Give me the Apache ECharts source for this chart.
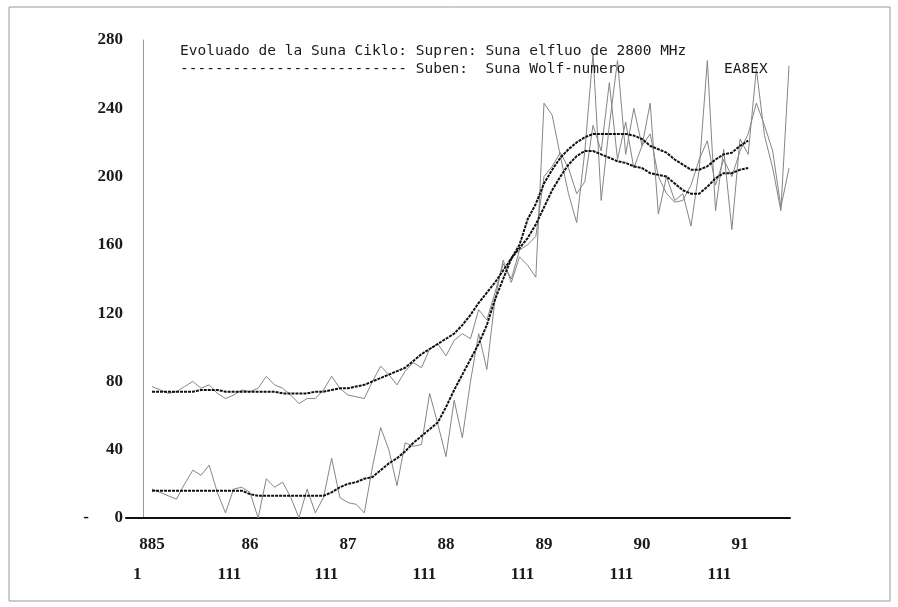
<!DOCTYPE html>
<html>
<head>
<meta charset="utf-8">
<script src="https://cdn.jsdelivr.net/npm/echarts@6/dist/echarts.min.js"></script>
<style>
	html, body { margin: 0; padding: 0; background: #fff; }
	#chart { width: 898px; height: 607px; }
</style>
</head>
<body>
<div id="chart"></div>
<script type="text/javascript">

	// jaroj kaj monatoj (monato 0 = januaro 1985)
	var startYear = 1985;
	var yearTicks = [1985, 1986, 1987, 1988, 1989, 1990, 1991];
	var markTicks = [1984.85, 1985.79, 1986.78, 1987.78, 1988.78, 1989.79, 1990.79];
	var yTicks = [0, 40, 80, 120, 160, 200, 240, 280];

	// monataj valoroj, legitaj de la bildo
	var fluxMonthly = [77,75,73,74,77,80,76,78,73,70, 72,75,74,76,83,78,76,72,67,70,
		70,75,83,76,72,71,70,80,89,84, 78,86,91,88,99,102,95,104,108,105,
		122,116,132,149,140,157,160,165,200,206, 214,205,190,197,230,215,255,210,232,205,
		218,225,200,190,185,186,195,210,221,195, 210,200,215,225,243,230,215,182,205];

	var wolfMonthly = [17,15,13,11,20,28,25,31,15,3, 17,18,15,0,23,18,21,12,0,17,
		3,12,35,12,9,8,3,30,53,40, 19,44,42,43,73,55,36,69,47,80,
		108,87,128,151,138,153,148,141,243,236, 212,190,173,215,272,186,230,268,213,240,
		218,243,178,200,186,190,171,204,268,180, 216,169,222,213,263,224,205,180,265];

	// glatigitaj valoroj
	var fluxSmooth = [74,74,74,74,74,74,75,75,75,74, 74,74,74,74,74,74,73,73,73,73,
		74,74,75,76,76,77,78,80,82,84, 86,88,92,96,99,102,105,108,113,119,
		126,132,138,145,152,158,164,172,182,192, 200,207,212,215,215,213,211,209,208,206,
		205,202,201,200,196,192,190,190,194,199, 202,202,204,205];

	var wolfSmooth = [16,16,16,16,16,16,16,16,16,16, 16,16,14,13,13,13,13,13,13,13,
		13,13,15,18,20,21,23,24,28,32, 35,39,44,48,52,56,65,75,84,93,
		102,113,128,140,152,160,175,184,196,204, 211,216,220,223,225,225,225,225,225,224,
		222,218,216,214,210,207,204,204,206,210, 213,214,218,221];

	function toPoints(values){
		var out = [];
		for (var i = 0; i < values.length; i++) {
			out.push([startYear + i / 12, values[i]]);
		}
		return out;
	}

	var labelFont = "'Liberation Serif','DejaVu Serif',serif";
	var monoFont = "'DejaVu Sans Mono','Liberation Mono',monospace";

	var chart = echarts.init(document.getElementById('chart'));
	chart.setOption({
		animation: false,
		backgroundColor: '#fff',
		title: [
			{
				text: 'Evoluado de la Suna Ciklo: Supren: Suna elfluo de 2800 MHz',
				left: 175, top: 39,
				textStyle: { fontFamily: monoFont, fontSize: 14.5, fontWeight: 'normal', color: '#1a1a1a' }
			},
			{
				text: '-------------------------- Suben:  Suna Wolf-numero',
				left: 175, top: 57,
				textStyle: { fontFamily: monoFont, fontSize: 14.5, fontWeight: 'normal', color: '#1a1a1a' }
			},
			{
				text: 'EA8EX',
				left: 719, top: 57,
				textStyle: { fontFamily: monoFont, fontSize: 14.5, fontWeight: 'normal', color: '#1a1a1a' }
			}
		],
		graphic: [
			{
				type: 'rect',
				shape: { x: 9, y: 7, width: 881, height: 594 },
				style: { fill: 'none', stroke: '#9a9a9a', lineWidth: 1 },
				silent: true
			}
		],
		grid: {
			left: 126,
			right: 108,
			top: 40,
			bottom: 89,
			containLabel: false,
			outerBoundsMode: 'none'
		},
		xAxis: [
			{
				type: 'value',
				min: 1984.735,
				max: 1991.51,
				axisLine: { show: true, onZero: false, lineStyle: { color: '#111', width: 2 } },
				axisTick: { show: false },
				splitLine: { show: false },
				axisLabel: {
					customValues: yearTicks,
					margin: 18,
					fontFamily: labelFont,
					fontSize: 17,
					fontWeight: 'bold',
					color: '#1a1a1a',
					formatter: function(v){
						return v === 1985 ? '885' : String(Math.round(v)).slice(2);
					}
				}
			},
			{
				type: 'value',
				min: 1984.735,
				max: 1991.51,
				position: 'bottom',
				offset: 30,
				axisLine: { show: false },
				axisTick: { show: false },
				splitLine: { show: false },
				axisLabel: {
					customValues: markTicks,
					margin: 18,
					fontFamily: labelFont,
					fontSize: 17,
					fontWeight: 'bold',
					color: '#1a1a1a',
					formatter: function(v){
						return v < 1985 ? '1' : '111';
					}
				}
			}
		],
		yAxis: {
			type: 'value',
			min: 0,
			max: 280,
			interval: 40,
			offset: -17,
			axisLine: { show: true, onZero: false, lineStyle: { color: '#9a9a9a', width: 1 } },
			axisTick: { show: false },
			splitLine: { show: false },
			axisLabel: {
				margin: 20,
				fontFamily: labelFont,
				fontSize: 17,
				fontWeight: 'bold',
				color: '#1a1a1a',
				formatter: function(v){
					return v === 0 ? '-      0' : String(v);
				}
			}
		},
		series: [
			{
				name: 'Suna elfluo',
				type: 'line',
				showSymbol: false,
				data: toPoints(fluxMonthly),
				lineStyle: { color: '#858585', width: 1 },
				z: 2
			},
			{
				name: 'Wolf-numero',
				type: 'line',
				showSymbol: false,
				data: toPoints(wolfMonthly),
				lineStyle: { color: '#858585', width: 1 },
				z: 2
			},
			{
				name: 'Suna elfluo glatigita',
				type: 'line',
				showSymbol: false,
				data: toPoints(fluxSmooth),
				lineStyle: { color: '#111', width: 2, type: [3, 1] },
				z: 3
			},
			{
				name: 'Wolf-numero glatigita',
				type: 'line',
				showSymbol: false,
				data: toPoints(wolfSmooth),
				lineStyle: { color: '#111', width: 2, type: [3, 1] },
				z: 3
			}
		]
	});

</script>
</body>
</html>
